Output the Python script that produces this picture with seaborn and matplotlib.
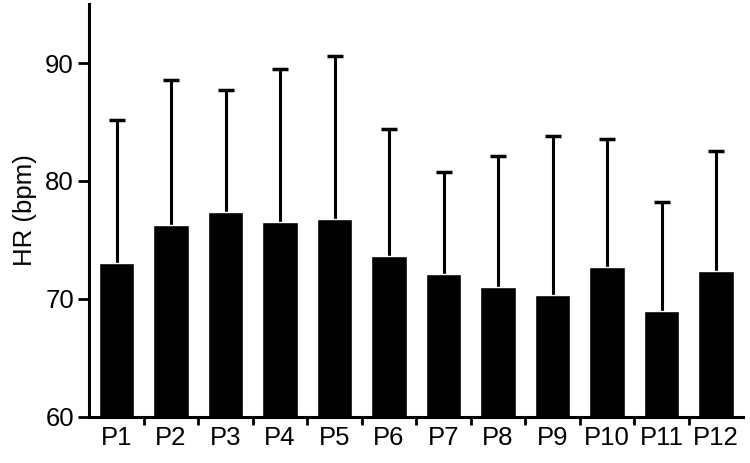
import numpy as np
import pandas as pd
import matplotlib
matplotlib.use("Agg")
import matplotlib.pyplot as plt
import seaborn as sns

participants = ["P1", "P2", "P3", "P4", "P5", "P6", "P7", "P8", "P9", "P10", "P11", "P12"]
hr_mean = [73.0, 76.3, 77.35, 76.5, 76.75, 73.6, 72.1, 71.0, 70.35, 72.7, 69.0, 72.4]
hr_sd = [12.2, 12.3, 10.4, 13.0, 13.85, 10.8, 8.7, 11.1, 13.45, 10.9, 9.25, 10.15]

sns.set_style("ticks", {"axes.edgecolor": "black", "xtick.color": "black",
                        "ytick.color": "black", "text.color": "black",
                        "axes.labelcolor": "black"})
plt.rcParams["font.family"] = ["Liberation Sans", "DejaVu Sans"]

df = pd.DataFrame({"participant": participants, "hr": hr_mean})

fig = plt.figure(figsize=(7.5, 4.63), dpi=100)
ax = fig.add_axes([0.119, 0.1, 0.872, 0.891])

sns.barplot(data=df, x="participant", y="hr", color="black", width=0.65,
            errorbar=None, saturation=1, ax=ax, zorder=2)
eb = ax.errorbar(np.arange(len(participants)), hr_mean,
                 yerr=[np.zeros(len(hr_sd)), hr_sd], fmt="none", ecolor="black",
                 elinewidth=2.2, capsize=6, capthick=2.5, zorder=1)
# only keep the upper caps
for cap in eb[1]:
    if np.allclose(cap.get_ydata(), hr_mean):
        cap.set_visible(False)

ax.set_ylim(60, 95)
ax.set_xlim(-0.5, len(participants) - 0.5)
ax.set_yticks([60, 70, 80, 90])
ax.set_xticks(np.arange(0.5, len(participants) - 0.5), minor=True)
ax.tick_params(axis="x", which="major", length=0, labelsize=18.5, pad=7)
ax.tick_params(axis="x", which="minor", length=6, width=2)
ax.tick_params(axis="y", length=8, width=2, labelsize=18.5, pad=3)
ax.set_xlabel("")
ax.set_ylabel("HR (bpm)", fontsize=18.5, labelpad=6)

for s in ["top", "right"]:
    ax.spines[s].set_visible(False)
for s in ["left", "bottom"]:
    ax.spines[s].set_linewidth(2.2)

fig.savefig("out.png", dpi=100)
